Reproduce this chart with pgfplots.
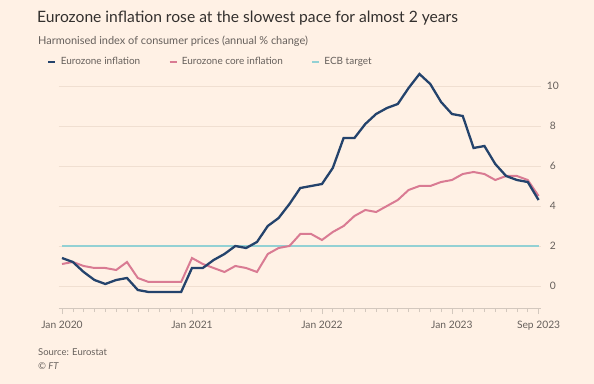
\documentclass[border=0pt]{standalone}
\usepackage{fontspec}
\setmainfont{Lato}
\usepackage{pgfplots}
\pgfplotsset{compat=1.18}
\definecolor{bg}{HTML}{FFF1E5}
\definecolor{navy}{HTML}{24436C}
\definecolor{pinkc}{HTML}{D97B93}
\definecolor{tealc}{HTML}{93D1D4}
\definecolor{gridc}{HTML}{F0DFD1}
\definecolor{tickc}{HTML}{D3C8BE}
\definecolor{txt}{HTML}{33302E}
\definecolor{subc}{HTML}{66605C}
\pgfplotstableread{
m hicp core
0 1.4 1.1
1 1.2 1.2
2 0.7 1.0
3 0.3 0.9
4 0.1 0.9
5 0.3 0.8
6 0.4 1.2
7 -0.2 0.4
8 -0.3 0.2
9 -0.3 0.2
10 -0.3 0.2
11 -0.3 0.2
12 0.9 1.4
13 0.9 1.1
14 1.3 0.9
15 1.6 0.7
16 2.0 1.0
17 1.9 0.9
18 2.2 0.7
19 3.0 1.6
20 3.4 1.9
21 4.1 2.0
22 4.9 2.6
23 5.0 2.6
24 5.1 2.3
25 5.9 2.7
26 7.4 3.0
27 7.4 3.5
28 8.1 3.8
29 8.6 3.7
30 8.9 4.0
31 9.1 4.3
32 9.9 4.8
33 10.6 5.0
34 10.1 5.0
35 9.2 5.2
36 8.6 5.3
37 8.5 5.6
38 6.9 5.7
39 7.0 5.6
40 6.1 5.3
41 5.5 5.5
42 5.3 5.5
43 5.2 5.3
44 4.3 4.5
}\infl
\begin{document}
\begin{tikzpicture}
\fill[bg] (0bp,0bp) rectangle (594bp,384bp);
\useasboundingbox (0bp,0bp) rectangle (594bp,384bp);
\node[anchor=base west, inner sep=0, text=txt, font=\fontsize{15.7}{18}\selectfont] at (37bp,361bp) {Eurozone inflation rose at the slowest pace for almost 2 years};
\node[anchor=base west, inner sep=0, text=subc, font=\fontsize{11}{13}\selectfont] at (38bp,339bp) {Harmonised index of consumer prices (annual \% change)};
\node[anchor=base west, inner sep=0, text=subc, font=\fontsize{9.5}{11}\selectfont] at (38bp,29bp) {Source: Eurostat};
\node[anchor=base west, inner sep=0, text=subc, font=\fontsize{9.5}{11}\selectfont\itshape] at (38bp,15bp) {© FT};
\begin{axis}[
  at={(58.75bp,76bp)}, anchor=south west,
  scale only axis, width=482bp, height=238bp,
  xmin=-0.3, xmax=44.2, ymin=-1.1, ymax=10.8,
  axis x line*=bottom, axis y line*=right,
  x axis line style={draw=tickc, line width=0.6bp, -},
  y axis line style={draw=none},
  xtick={0,12,24,36,44},
  xticklabels={Jan 2020,Jan 2021,Jan 2022,Jan 2023,Sep 2023},
  minor xtick={1,...,43},
  xtick align=outside,
  major tick length=6bp, minor tick length=4bp,
  xtick style={draw=tickc, line width=0.6bp},
  minor tick style={draw=tickc, line width=0.6bp},
  ytick={0,2,...,10},
  ytick style={draw=none},
  ymajorgrids, grid style={draw=gridc, line width=0.8bp},
  /pgf/number format/assume math mode=true,
  ticklabel style={font=\fontsize{10.3}{12}\selectfont, text=subc},
  yticklabel style={anchor=center, xshift=12bp},
  xticklabel style={anchor=base, yshift=-14bp},
  legend columns=3,
  legend style={at={(-0.0244,1.0336)}, anchor=west, draw=none, fill=none, inner sep=0pt,
    font=\fontsize{10}{12}\selectfont, text=subc,
    nodes={inner sep=0pt},
    /tikz/every odd column/.append style={column sep=4bp},
    /tikz/every even column/.append style={column sep=28bp}},
  legend image code/.code={\draw[#1, line width=2.6bp] (0bp,0bp) -- (7bp,0bp);},
]
\addplot[tealc, line width=2bp, forget plot] coordinates {(0,2) (44,2)};
\addplot[pinkc, line width=2bp, forget plot] table[x=m, y=core] {\infl};
\addplot[navy, line width=2.3bp, forget plot] table[x=m, y=hicp] {\infl};
\addlegendimage{navy}
\addlegendentry{Eurozone inflation}
\addlegendimage{pinkc}
\addlegendentry{Eurozone core inflation}
\addlegendimage{tealc}
\addlegendentry{ECB target}
\end{axis}
\end{tikzpicture}
\end{document}
